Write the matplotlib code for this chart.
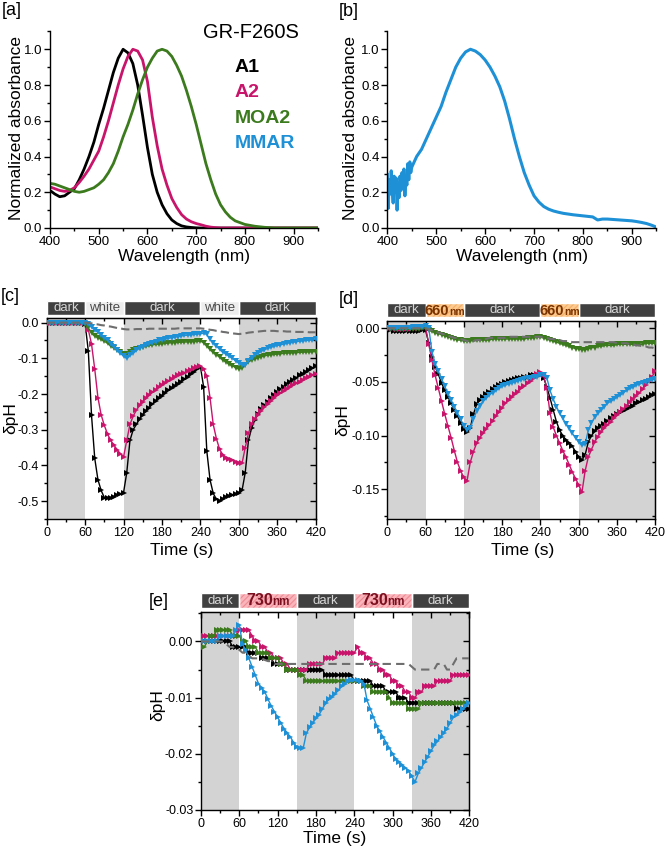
import numpy as np
import matplotlib
matplotlib.use("Agg")
import matplotlib.pyplot as plt
from matplotlib import font_manager as fm
from matplotlib.patches import Rectangle
from matplotlib.transforms import blended_transform_factory
from matplotlib.ticker import MultipleLocator, FormatStrFormatter

plt.rcParams['font.family'] = ['Liberation Sans', 'DejaVu Sans']
plt.rcParams['axes.unicode_minus'] = False
plt.rcParams['hatch.linewidth'] = 0.8

# ---------------- data: spectra ----------------
wl_a = np.arange(400, 951, 10)
abs_A1 = [0.21, 0.19, 0.175, 0.18, 0.20, 0.22, 0.27, 0.33, 0.40, 0.48,
          0.58, 0.67, 0.77, 0.87, 0.95, 1.0, 0.98, 0.92, 0.80, 0.63,
          0.45, 0.30, 0.20, 0.13, 0.08, 0.045, 0.025, 0.012, 0.006, 0.003,
          0.001, 0.0, 0.0, 0.0, 0.0, 0.0, 0.0, 0.0, 0.0, 0.0,
          0.0, 0.0, 0.0, 0.0, 0.0, 0.0, 0.0, 0.0, 0.0, 0.0,
          0.0, 0.0, 0.0, 0.0, 0.0, 0.0]
abs_A2 = [0.23, 0.22, 0.21, 0.205, 0.21, 0.225, 0.255, 0.29, 0.33, 0.38,
          0.43, 0.51, 0.60, 0.70, 0.80, 0.89, 0.96, 1.0, 0.99, 0.94,
          0.82, 0.62, 0.46, 0.33, 0.24, 0.165, 0.115, 0.075, 0.05, 0.035,
          0.025, 0.018, 0.01, 0.005, 0.002, 0.0, 0.0, 0.0, 0.0, 0.0,
          0.0, 0.0, 0.0, 0.0, 0.0, 0.0, 0.0, 0.0, 0.0, 0.0,
          0.0, 0.0, 0.0, 0.0, 0.0, 0.0]
abs_MOA2 = [0.25, 0.245, 0.235, 0.225, 0.215, 0.205, 0.20, 0.205, 0.215, 0.225,
            0.245, 0.27, 0.31, 0.36, 0.43, 0.51, 0.58, 0.66, 0.75, 0.83,
            0.90, 0.95, 0.99, 1.0, 0.99, 0.96, 0.91, 0.85, 0.77, 0.68,
            0.58, 0.47, 0.36, 0.27, 0.19, 0.13, 0.09, 0.06, 0.04, 0.03,
            0.02, 0.015, 0.01, 0.007, 0.004, 0.002, 0.0, 0.0, 0.0, 0.0,
            0.0, 0.0, 0.0, 0.0, 0.0, 0.0]

wl_b = np.concatenate([np.arange(400, 449, 2), np.arange(450, 951, 10)])
abs_MMAR = [0.30, 0.11, 0.27, 0.19, 0.32, 0.22, 0.14, 0.29, 0.20, 0.28,
            0.10, 0.25, 0.17, 0.29, 0.21, 0.31, 0.23, 0.33, 0.18, 0.29,
            0.24, 0.36, 0.27, 0.37, 0.31,
            0.34, 0.40, 0.44, 0.50, 0.56, 0.62, 0.68, 0.76, 0.83, 0.90,
            0.95, 0.985, 1.0, 0.99, 0.97, 0.94, 0.90, 0.85, 0.79, 0.71,
            0.61, 0.50, 0.40, 0.31, 0.24, 0.18, 0.145, 0.12, 0.105, 0.095,
            0.088, 0.082, 0.078, 0.074, 0.071, 0.068, 0.065, 0.062, 0.045, 0.05,
            0.05, 0.048, 0.046, 0.044, 0.042, 0.04, 0.036, 0.031, 0.025, 0.016,
            0.005]

# ---------------- data: pH time courses ----------------
t = np.arange(0, 421, 5)

c_A1 = [0.0, 0.0, -0.001, -0.001, -0.001, -0.001, -0.001, -0.001, -0.001, -0.001,
        -0.002, -0.002, -0.003, -0.08, -0.26, -0.38, -0.44, -0.47, -0.49, -0.492,
        -0.49, -0.487, -0.483, -0.48, -0.476, -0.42, -0.33, -0.30, -0.285, -0.27,
        -0.258, -0.248, -0.238, -0.228, -0.22, -0.212, -0.205, -0.197, -0.19, -0.183,
        -0.177, -0.171, -0.165, -0.159, -0.153, -0.145, -0.138, -0.13, -0.123, -0.18,
        -0.36, -0.44, -0.478, -0.495, -0.50, -0.494, -0.488, -0.485, -0.483, -0.48,
        -0.478, -0.47, -0.42, -0.33, -0.295, -0.272, -0.256, -0.243, -0.232, -0.222,
        -0.212, -0.203, -0.195, -0.187, -0.18, -0.173, -0.166, -0.16, -0.154, -0.148,
        -0.143, -0.138, -0.133, -0.128, -0.122]
c_A2 = [0.0, 0.0, 0.0, 0.0, 0.0, 0.0, 0.0, 0.0, 0.0, 0.0,
        0.0, 0.0, -0.002, -0.02, -0.06, -0.13, -0.21, -0.258, -0.288, -0.312,
        -0.33, -0.343, -0.356, -0.367, -0.376, -0.33, -0.285, -0.262, -0.245, -0.232,
        -0.221, -0.212, -0.203, -0.195, -0.188, -0.181, -0.175, -0.169, -0.163, -0.158,
        -0.153, -0.148, -0.144, -0.14, -0.136, -0.132, -0.128, -0.124, -0.121, -0.13,
        -0.15, -0.21, -0.285, -0.325, -0.355, -0.37, -0.378, -0.383, -0.386, -0.389,
        -0.392, -0.394, -0.35, -0.31, -0.285, -0.27, -0.258, -0.247, -0.237, -0.228,
        -0.219, -0.211, -0.204, -0.197, -0.191, -0.185, -0.18, -0.175, -0.17, -0.165,
        -0.16, -0.155, -0.151, -0.147, -0.143]
c_MOA2 = [-0.002, -0.002, -0.002, -0.002, -0.002, -0.002, -0.002, -0.002, -0.002, -0.002,
          -0.002, -0.002, -0.004, -0.015, -0.03, -0.037, -0.042, -0.047, -0.052, -0.058,
          -0.065, -0.071, -0.077, -0.083, -0.088, -0.088, -0.082, -0.077, -0.073, -0.07,
          -0.068, -0.066, -0.064, -0.062, -0.061, -0.06, -0.059, -0.058, -0.057, -0.056,
          -0.056, -0.055, -0.055, -0.054, -0.054, -0.053, -0.053, -0.052, -0.052, -0.056,
          -0.065, -0.075, -0.083, -0.09, -0.097, -0.104, -0.11, -0.116, -0.121, -0.126,
          -0.13, -0.127, -0.118, -0.11, -0.105, -0.101, -0.098, -0.095, -0.093, -0.091,
          -0.09, -0.089, -0.088, -0.087, -0.086, -0.085, -0.085, -0.084, -0.084, -0.083,
          -0.083, -0.082, -0.082, -0.081, -0.081]
c_MMAR = [0.0, 0.0, 0.0, 0.0, 0.0, 0.0, 0.0, 0.0, 0.0, 0.0,
          0.0, 0.0, 0.0, -0.005, -0.013, -0.02, -0.027, -0.034, -0.042, -0.05,
          -0.059, -0.068, -0.077, -0.086, -0.094, -0.1, -0.092, -0.085, -0.078, -0.072,
          -0.067, -0.063, -0.059, -0.056, -0.053, -0.05, -0.048, -0.046, -0.044, -0.042,
          -0.04, -0.039, -0.037, -0.036, -0.035, -0.034, -0.033, -0.032, -0.031, -0.03,
          -0.033, -0.047, -0.056, -0.066, -0.075, -0.082, -0.088, -0.094, -0.1, -0.107,
          -0.113, -0.119, -0.12, -0.107, -0.098, -0.091, -0.085, -0.08, -0.076, -0.072,
          -0.069, -0.066, -0.064, -0.062, -0.06, -0.058, -0.056, -0.055, -0.053, -0.052,
          -0.051, -0.05, -0.049, -0.048, -0.047]
c_ctrl = [0.0, 0.0, 0.0, 0.0, 0.0, 0.0, 0.0, 0.0, 0.0, 0.0,
          0.0, 0.0, 0.0, -0.001, -0.002, -0.004, -0.005, -0.007, -0.008, -0.01,
          -0.011, -0.013, -0.015, -0.016, -0.018, -0.019, -0.019, -0.019, -0.018, -0.018,
          -0.018, -0.018, -0.017, -0.017, -0.017, -0.017, -0.017, -0.017, -0.017, -0.017,
          -0.017, -0.016, -0.016, -0.016, -0.016, -0.016, -0.016, -0.016, -0.016, -0.017,
          -0.018, -0.02, -0.021, -0.023, -0.024, -0.026, -0.027, -0.029, -0.03, -0.031,
          -0.032, -0.031, -0.03, -0.028, -0.027, -0.026, -0.025, -0.024, -0.023, -0.023,
          -0.023, -0.023, -0.024, -0.024, -0.024, -0.025, -0.025, -0.025, -0.026, -0.026,
          -0.026, -0.026, -0.027, -0.027, -0.027]

d_A1 = [-0.001, -0.002, -0.003, -0.003, -0.003, -0.003, -0.003, -0.003, -0.003, -0.003,
        -0.003, -0.002, -0.002, -0.014, -0.027, -0.036, -0.043, -0.051, -0.058, -0.064,
        -0.07, -0.076, -0.082, -0.088, -0.094, -0.097, -0.093, -0.08, -0.071, -0.067,
        -0.064, -0.061, -0.059, -0.057, -0.055, -0.053, -0.052, -0.05, -0.049, -0.048,
        -0.047, -0.046, -0.046, -0.045, -0.045, -0.044, -0.044, -0.044, -0.044, -0.046,
        -0.055, -0.065, -0.076, -0.087, -0.095, -0.1, -0.104, -0.107, -0.11, -0.115,
        -0.12, -0.123, -0.118, -0.106, -0.1, -0.096, -0.093, -0.091, -0.089, -0.086,
        -0.084, -0.082, -0.08, -0.078, -0.077, -0.075, -0.073, -0.072, -0.07, -0.069,
        -0.067, -0.066, -0.064, -0.062, -0.061]
d_A2 = [0.0, 0.0, 0.0, -0.001, -0.001, -0.001, -0.001, -0.001, 0.0, 0.0,
        0.0, 0.001, 0.001, -0.015, -0.03, -0.044, -0.056, -0.068, -0.08, -0.091,
        -0.102, -0.114, -0.125, -0.133, -0.139, -0.142, -0.125, -0.115, -0.107, -0.102,
        -0.098, -0.094, -0.09, -0.086, -0.082, -0.078, -0.074, -0.07, -0.067, -0.064,
        -0.061, -0.059, -0.056, -0.054, -0.051, -0.049, -0.046, -0.043, -0.041, -0.044,
        -0.056, -0.079, -0.092, -0.1, -0.107, -0.114, -0.12, -0.127, -0.134, -0.14,
        -0.146, -0.153, -0.133, -0.12, -0.113, -0.106, -0.101, -0.097, -0.093, -0.09,
        -0.087, -0.084, -0.081, -0.078, -0.075, -0.072, -0.069, -0.066, -0.063, -0.06,
        -0.057, -0.053, -0.049, -0.045, -0.04]
d_MOA2 = [0.0, -0.001, -0.001, -0.001, -0.001, -0.001, -0.001, -0.001, -0.001, -0.001,
          -0.001, 0.0, 0.0, -0.002, -0.003, -0.004, -0.005, -0.006, -0.007, -0.008,
          -0.009, -0.01, -0.011, -0.011, -0.012, -0.012, -0.012, -0.011, -0.011, -0.011,
          -0.011, -0.011, -0.011, -0.01, -0.01, -0.01, -0.01, -0.01, -0.01, -0.01,
          -0.01, -0.01, -0.01, -0.01, -0.009, -0.009, -0.009, -0.008, -0.008, -0.009,
          -0.01, -0.011, -0.012, -0.013, -0.014, -0.015, -0.016, -0.017, -0.018, -0.019,
          -0.019, -0.02, -0.02, -0.019, -0.018, -0.018, -0.017, -0.017, -0.016, -0.016,
          -0.016, -0.016, -0.015, -0.015, -0.015, -0.015, -0.015, -0.015, -0.015, -0.015,
          -0.015, -0.014, -0.014, -0.014, -0.014]
d_MMAR = [0.0, 0.0, 0.0, 0.0, 0.0, 0.0, 0.0, 0.0, 0.001, 0.001,
          0.001, 0.001, 0.002, 0.0, -0.022, -0.033, -0.04, -0.047, -0.054, -0.061,
          -0.067, -0.073, -0.079, -0.085, -0.091, -0.095, -0.093, -0.085, -0.077, -0.072,
          -0.068, -0.065, -0.062, -0.06, -0.058, -0.056, -0.054, -0.053, -0.052, -0.051,
          -0.05, -0.049, -0.048, -0.047, -0.046, -0.046, -0.045, -0.045, -0.044, -0.044,
          -0.046, -0.058, -0.066, -0.073, -0.079, -0.084, -0.089, -0.093, -0.098, -0.102,
          -0.106, -0.109, -0.108, -0.095, -0.088, -0.083, -0.079, -0.076, -0.073, -0.07,
          -0.068, -0.066, -0.064, -0.062, -0.06, -0.058, -0.056, -0.055, -0.053, -0.052,
          -0.051, -0.05, -0.049, -0.048, -0.047]
d_ctrl = [0.0, 0.0, 0.0, 0.0, 0.0, 0.0, 0.0, 0.0, 0.0, 0.0,
          0.0, 0.0, 0.0, -0.001, -0.002, -0.003, -0.004, -0.005, -0.006, -0.007,
          -0.008, -0.009, -0.009, -0.01, -0.011, -0.012, -0.012, -0.012, -0.011, -0.011,
          -0.01, -0.01, -0.009, -0.009, -0.009, -0.009, -0.009, -0.009, -0.008, -0.008,
          -0.008, -0.008, -0.008, -0.008, -0.008, -0.008, -0.008, -0.008, -0.008, -0.009,
          -0.009, -0.01, -0.01, -0.011, -0.011, -0.012, -0.012, -0.012, -0.013, -0.013,
          -0.013, -0.013, -0.013, -0.013, -0.013, -0.013, -0.013, -0.013, -0.013, -0.013,
          -0.013, -0.013, -0.014, -0.014, -0.014, -0.014, -0.015, -0.015, -0.016, -0.016,
          -0.017, -0.017, -0.018, -0.018, -0.019]

e_A1 = [0.0, 0.0, 0.0, 0.0, 0.0, 0.0, 0.0, 0.0, 0.0, 0.0,
        -0.001, -0.001, -0.001, -0.001, -0.001, -0.002, -0.002, -0.002, -0.002, -0.003,
        -0.003, -0.003, -0.003, -0.004, -0.004, -0.004, -0.004, -0.005, -0.005, -0.005,
        -0.005, -0.005, -0.005, -0.005, -0.005, -0.005, -0.005, -0.005, -0.005, -0.006,
        -0.006, -0.006, -0.006, -0.006, -0.006, -0.006, -0.006, -0.006, -0.007, -0.007,
        -0.007, -0.007, -0.007, -0.007, -0.008, -0.008, -0.008, -0.008, -0.009, -0.009,
        -0.009, -0.009, -0.01, -0.01, -0.01, -0.011, -0.011, -0.011, -0.011, -0.011,
        -0.011, -0.011, -0.011, -0.011, -0.011, -0.011, -0.011, -0.011, -0.011, -0.011,
        -0.012, -0.012, -0.012, -0.012, -0.012]
e_A2 = [0.001, 0.001, 0.001, 0.001, 0.001, 0.001, 0.001, 0.001, 0.001, 0.001,
        0.001, 0.001, 0.002, 0.002, 0.002, 0.002, 0.001, 0.0, 0.0, -0.001,
        -0.001, -0.002, -0.002, -0.003, -0.003, -0.003, -0.004, -0.004, -0.005, -0.005,
        -0.005, -0.005, -0.005, -0.005, -0.004, -0.004, -0.004, -0.004, -0.004, -0.003,
        -0.003, -0.003, -0.003, -0.002, -0.002, -0.002, -0.002, -0.002, -0.002, -0.001,
        -0.002, -0.002, -0.003, -0.003, -0.004, -0.004, -0.005, -0.005, -0.006, -0.006,
        -0.007, -0.007, -0.008, -0.008, -0.009, -0.009, -0.01, -0.01, -0.009, -0.009,
        -0.008, -0.008, -0.008, -0.008, -0.007, -0.007, -0.007, -0.007, -0.007, -0.006,
        -0.006, -0.006, -0.006, -0.006, -0.006]
e_MOA2 = [-0.001, -0.001, 0.0, 0.001, 0.001, 0.002, 0.002, 0.002, 0.002, 0.002,
          0.001, 0.001, 0.001, 0.0, 0.0, -0.001, -0.001, -0.001, -0.002, -0.002,
          -0.002, -0.002, -0.003, -0.003, -0.003, -0.004, -0.004, -0.005, -0.005, -0.005,
          -0.005, -0.006, -0.006, -0.007, -0.007, -0.007, -0.007, -0.007, -0.007, -0.007,
          -0.007, -0.007, -0.007, -0.007, -0.007, -0.007, -0.007, -0.007, -0.007, -0.007,
          -0.007, -0.008, -0.008, -0.008, -0.009, -0.009, -0.009, -0.009, -0.009, -0.01,
          -0.011, -0.011, -0.011, -0.011, -0.011, -0.012, -0.012, -0.012, -0.012, -0.011,
          -0.011, -0.011, -0.011, -0.011, -0.011, -0.011, -0.011, -0.011, -0.011, -0.011,
          -0.011, -0.011, -0.011, -0.011, -0.011]
e_MMAR = [0.0, 0.0, 0.0, 0.0, 0.0, 0.0, 0.001, 0.001, 0.001, 0.001,
          0.001, 0.002, 0.003, -0.0005, -0.0015, -0.003, -0.0045, -0.006, -0.0075, -0.0083,
          -0.009, -0.0103, -0.0115, -0.0125, -0.0135, -0.0145, -0.0155, -0.0163, -0.017, -0.018,
          -0.0188, -0.019, -0.019, -0.0163, -0.0153, -0.0145, -0.0137, -0.013, -0.012, -0.011,
          -0.0103, -0.0098, -0.0093, -0.0087, -0.008, -0.0075, -0.007, -0.0068, -0.0068, -0.0068,
          -0.007, -0.0075, -0.0105, -0.012, -0.0135, -0.015, -0.016, -0.017, -0.018, -0.019,
          -0.02, -0.021, -0.0215, -0.022, -0.0225, -0.023, -0.024, -0.025, -0.0235, -0.0225,
          -0.0215, -0.0205, -0.0195, -0.0185, -0.0178, -0.017, -0.0163, -0.0155, -0.0145, -0.0135,
          -0.013, -0.0125, -0.012, -0.0115, -0.011]
e_ctrl = [0.0, 0.0, 0.0, 0.0, 0.0, 0.0, 0.0, 0.0, -0.0005, -0.001,
          -0.001, -0.0015, -0.0015, -0.002, -0.002, -0.0025, -0.003, -0.003, -0.003, -0.003,
          -0.0033, -0.0035, -0.0035, -0.004, -0.004, -0.004, -0.004, -0.004, -0.004, -0.004,
          -0.004, -0.004, -0.004, -0.004, -0.004, -0.004, -0.004, -0.004, -0.004, -0.004,
          -0.004, -0.004, -0.004, -0.004, -0.004, -0.004, -0.004, -0.004, -0.004, -0.004,
          -0.004, -0.004, -0.004, -0.004, -0.004, -0.004, -0.004, -0.004, -0.004, -0.004,
          -0.004, -0.004, -0.004, -0.004, -0.004, -0.004, -0.0045, -0.005, -0.005, -0.005,
          -0.005, -0.005, -0.005, -0.005, -0.004, -0.004, -0.004, -0.005, -0.005, -0.004,
          -0.003, -0.003, -0.003, -0.003, -0.003]

# illumination protocols
phases_cd = [0, 60, 120, 240, 300, 420]
kinds_c = ['dark', 'white', 'dark', 'white', 'dark']
kinds_d = ['dark', '660', 'dark', '660', 'dark']
phases_e = [0, 60, 150, 240, 330, 420]
kinds_e = ['dark', '730', 'dark', '730', 'dark']

series_names = ['A1', 'A2', 'MOA2', 'MMAR']

# ---------------- styling ----------------
COL = {'A1': '#000000', 'A2': '#C8156B', 'MOA2': '#3C7A1E', 'MMAR': '#1E90D6'}
CTRL_COL = '#6E6E6E'
SHADE = '#D3D3D3'
BAR = {
    'dark': dict(fc='#404040', tc='#D6D6D6', hatch=None, hc='none'),
    'white': dict(fc='#EDEDED', tc='#4A4A4A', hatch=None, hc='none'),
    '660': dict(fc='#FCC98F', tc='#7A3300', hatch='//////', hc='#F4AE66', fs=(10.5, 7.5)),
    '730': dict(fc='#F9B5BB', tc='#7A1020', hatch='//////', hc='#EF8A94', fs=(11.5, 8.5)),
}


def has_font(name):
    try:
        fm.findfont(fm.FontProperties(family=name), fallback_to_default=False)
        return True
    except Exception:
        return False


if has_font('Liberation Sans Narrow'):
    BAR_FONT = ['Liberation Sans Narrow', 'Liberation Sans']
    BAR_FS = 11.5
else:
    BAR_FONT = ['Liberation Sans', 'DejaVu Sans']
    BAR_FS = 9.5

W, H = 666, 851
fig = plt.figure(figsize=(W / 100, H / 100), dpi=100)


def add_axes_px(left, top, right, bottom):
    return fig.add_axes([left / W, 1 - bottom / H, (right - left) / W, (bottom - top) / H])


def ftext(x, y, s, **kw):
    return fig.text(x / W, 1 - y / H, s, **kw)


def style_spectrum(ax):
    ax.set_xlim(400, 950)
    ax.set_ylim(0, 1.1)
    for s in ['top', 'right']:
        ax.spines[s].set_visible(False)
    for s in ['left', 'bottom']:
        ax.spines[s].set_linewidth(1.0)
    ax.xaxis.set_major_locator(MultipleLocator(100))
    ax.xaxis.set_minor_locator(MultipleLocator(50))
    ax.yaxis.set_major_locator(MultipleLocator(0.2))
    ax.yaxis.set_minor_locator(MultipleLocator(0.1))
    ax.yaxis.set_major_formatter(FormatStrFormatter('%.1f'))
    ax.tick_params(which='both', direction='out', labelsize=9.5, width=1.0, pad=1.5)
    ax.tick_params(which='major', length=4)
    ax.tick_params(which='minor', length=2.5)


def style_time(ax, ylim, major, minor, fmt):
    ax.set_xlim(0, 420)
    ax.set_ylim(*ylim)
    for s in ax.spines.values():
        s.set_linewidth(1.0)
    ax.xaxis.set_major_locator(MultipleLocator(60))
    ax.xaxis.set_minor_locator(MultipleLocator(30))
    ax.yaxis.set_major_locator(MultipleLocator(major))
    ax.yaxis.set_minor_locator(MultipleLocator(minor))
    ax.yaxis.set_major_formatter(FormatStrFormatter(fmt))
    ax.tick_params(which='both', direction='out', labelsize=9, width=1.0, pad=1.5)
    ax.tick_params(which='major', length=4)
    ax.tick_params(which='minor', length=2.5)
    top = ax.secondary_xaxis('top')
    top.xaxis.set_major_locator(MultipleLocator(60))
    top.xaxis.set_minor_locator(MultipleLocator(30))
    top.tick_params(which='both', direction='in', labeltop=False, width=1.0)
    top.tick_params(which='major', length=4)
    top.tick_params(which='minor', length=2.5)
    right = ax.secondary_yaxis('right')
    right.yaxis.set_major_locator(MultipleLocator(major))
    right.yaxis.set_minor_locator(MultipleLocator(minor))
    right.tick_params(which='both', direction='in', labelright=False, width=1.0)
    right.tick_params(which='major', length=4)
    right.tick_params(which='minor', length=2.5)


wave_labels = []


def shade_and_bar(ax, bounds, kinds, y0, y1):
    tr = blended_transform_factory(ax.transData, ax.transAxes)
    for i, kind in enumerate(kinds):
        a, b = bounds[i], bounds[i + 1]
        if kind == 'dark':
            ax.axvspan(a, b, color=SHADE, lw=0, zorder=0)
        st = BAR[kind]
        ax.add_patch(Rectangle((a, y0), b - a, y1 - y0, transform=tr, clip_on=False,
                               facecolor=st['fc'], edgecolor=st['hc'], hatch=st['hatch'],
                               linewidth=0, zorder=5))
        ax.add_patch(Rectangle((a, y0), b - a, y1 - y0, transform=tr, clip_on=False,
                               fill=False, edgecolor='white', linewidth=1.0, zorder=6))
        xc = 0.5 * (a + b)
        ym = 0.5 * (y0 + y1)
        if kind in ('660', '730'):
            yb = y0 + 0.18 * (y1 - y0)
            fs1, fs2 = st['fs']
            t1 = ax.text(xc, yb, kind, transform=tr, ha='left', va='baseline',
                         color=st['tc'], fontsize=fs1, fontweight='bold',
                         family=BAR_FONT, zorder=7)
            t2 = ax.text(xc, yb, 'nm', transform=tr, ha='left', va='baseline',
                         color=st['tc'], fontsize=fs2, fontweight='bold',
                         family=BAR_FONT, zorder=7)
            wave_labels.append((ax, xc, yb, t1, t2))
        else:
            ax.text(xc, ym, kind, transform=tr, ha='center', va='center',
                    color=st['tc'], fontsize=BAR_FS, family=BAR_FONT, zorder=7)


def plot_series(ax, data, ctrl, markers, ctrl_dash):
    for name in series_names:
        ax.plot(t, data[name], color=COL[name], lw=1.0, marker=markers[name],
                ms=4.5, mew=0, zorder=3)
    ax.plot(t, ctrl, color=CTRL_COL, lw=1.5, ls=(0, ctrl_dash), zorder=4)


# ---------------- panel a ----------------
ax_a = add_axes_px(50, 31.4, 318, 228)
ax_a.plot(wl_a, abs_A1, color=COL['A1'], lw=2.0)
ax_a.plot(wl_a, abs_A2, color=COL['A2'], lw=2.0)
ax_a.plot(wl_a, abs_MOA2, color=COL['MOA2'], lw=2.0)
style_spectrum(ax_a)
ftext(17, 128.5, 'Normalized absorbance', rotation=90, ha='center', va='center', fontsize=12.5)
ftext(184, 257, 'Wavelength (nm)', ha='center', va='center', fontsize=12.5)
ftext(2, 2, '[a]', ha='left', va='top', fontsize=13)
ftext(203, 38, 'GR-F260S', ha='left', va='baseline', fontsize=14.5)
for i, name in enumerate(series_names):
    ftext(235, 72 + 25.3 * i, name, ha='left', va='baseline', fontsize=14,
          fontweight='bold', color=COL[name])

# ---------------- panel b ----------------
ax_b = add_axes_px(387.3, 31.4, 656.3, 228)
ax_b.plot(wl_b, abs_MMAR, color=COL['MMAR'], lw=2.2)
style_spectrum(ax_b)
ftext(351, 128.5, 'Normalized absorbance', rotation=90, ha='center', va='center', fontsize=12.5)
ftext(522, 257, 'Wavelength (nm)', ha='center', va='center', fontsize=12.5)
ftext(339, 3, '[b]', ha='left', va='top', fontsize=13)

mk_cd = {'A1': '>', 'A2': '>', 'MOA2': 'v', 'MMAR': 'v'}
mk_e = {'A1': '>', 'A2': '>', 'MOA2': '>', 'MMAR': '>'}

# ---------------- panel c ----------------
ax_c = add_axes_px(46.7, 318, 315.7, 519)
shade_and_bar(ax_c, phases_cd, kinds_c, 1.0149, 1.086)
plot_series(ax_c, {'A1': c_A1, 'A2': c_A2, 'MOA2': c_MOA2, 'MMAR': c_MMAR}, c_ctrl, mk_cd, (4, 2))
style_time(ax_c, (-0.55, 0.013), 0.1, 0.05, '%.1f')
ftext(11, 418, 'δpH', rotation=90, ha='center', va='center', fontsize=12.5)
ftext(181.7, 550, 'Time (s)', ha='center', va='center', fontsize=12.5)
ftext(1, 288, '[c]', ha='left', va='top', fontsize=13)

# ---------------- panel d ----------------
ax_d = add_axes_px(387.3, 320.7, 655.3, 519.3)
shade_and_bar(ax_d, phases_cd, kinds_d, 1.0171, 1.0906)
plot_series(ax_d, {'A1': d_A1, 'A2': d_A2, 'MOA2': d_MOA2, 'MMAR': d_MMAR}, d_ctrl, mk_cd, (4, 2))
style_time(ax_d, (-0.178, 0.007), 0.05, 0.025, '%.2f')
ftext(343, 420, 'δpH', rotation=90, ha='center', va='center', fontsize=12.5)
ftext(523, 551, 'Time (s)', ha='center', va='center', fontsize=12.5)
ftext(339, 291, '[d]', ha='left', va='top', fontsize=13)

# ---------------- panel e ----------------
ax_e = add_axes_px(201, 611.7, 469.3, 810)
shade_and_bar(ax_e, phases_e, kinds_e, 1.0171, 1.0958)
plot_series(ax_e, {'A1': e_A1, 'A2': e_A2, 'MOA2': e_MOA2, 'MMAR': e_MMAR}, e_ctrl, mk_e, (4, 2.5))
style_time(ax_e, (-0.03, 0.0053), 0.01, 0.005, '%.2f')
ftext(157.5, 705, 'δpH', rotation=90, ha='center', va='center', fontsize=12.5)
ftext(335, 839, 'Time (s)', ha='center', va='center', fontsize=12.5)
ftext(149, 593, '[e]', ha='left', va='top', fontsize=13)

# centre the "660nm"/"730nm" labels inside their segments
fig.canvas.draw()
rend = fig.canvas.get_renderer()
for ax, xc, yb, t1, t2 in wave_labels:
    w1 = t1.get_window_extent(rend).width
    w2 = t2.get_window_extent(rend).width
    cx = ax.transData.transform((xc, 0))[0]
    x1 = ax.transData.inverted().transform((cx - (w1 + w2) / 2, 0))[0]
    x2 = ax.transData.inverted().transform((cx - (w1 + w2) / 2 + w1, 0))[0]
    t1.set_position((x1, yb))
    t2.set_position((x2, yb))

fig.savefig('out.png', dpi=100)
